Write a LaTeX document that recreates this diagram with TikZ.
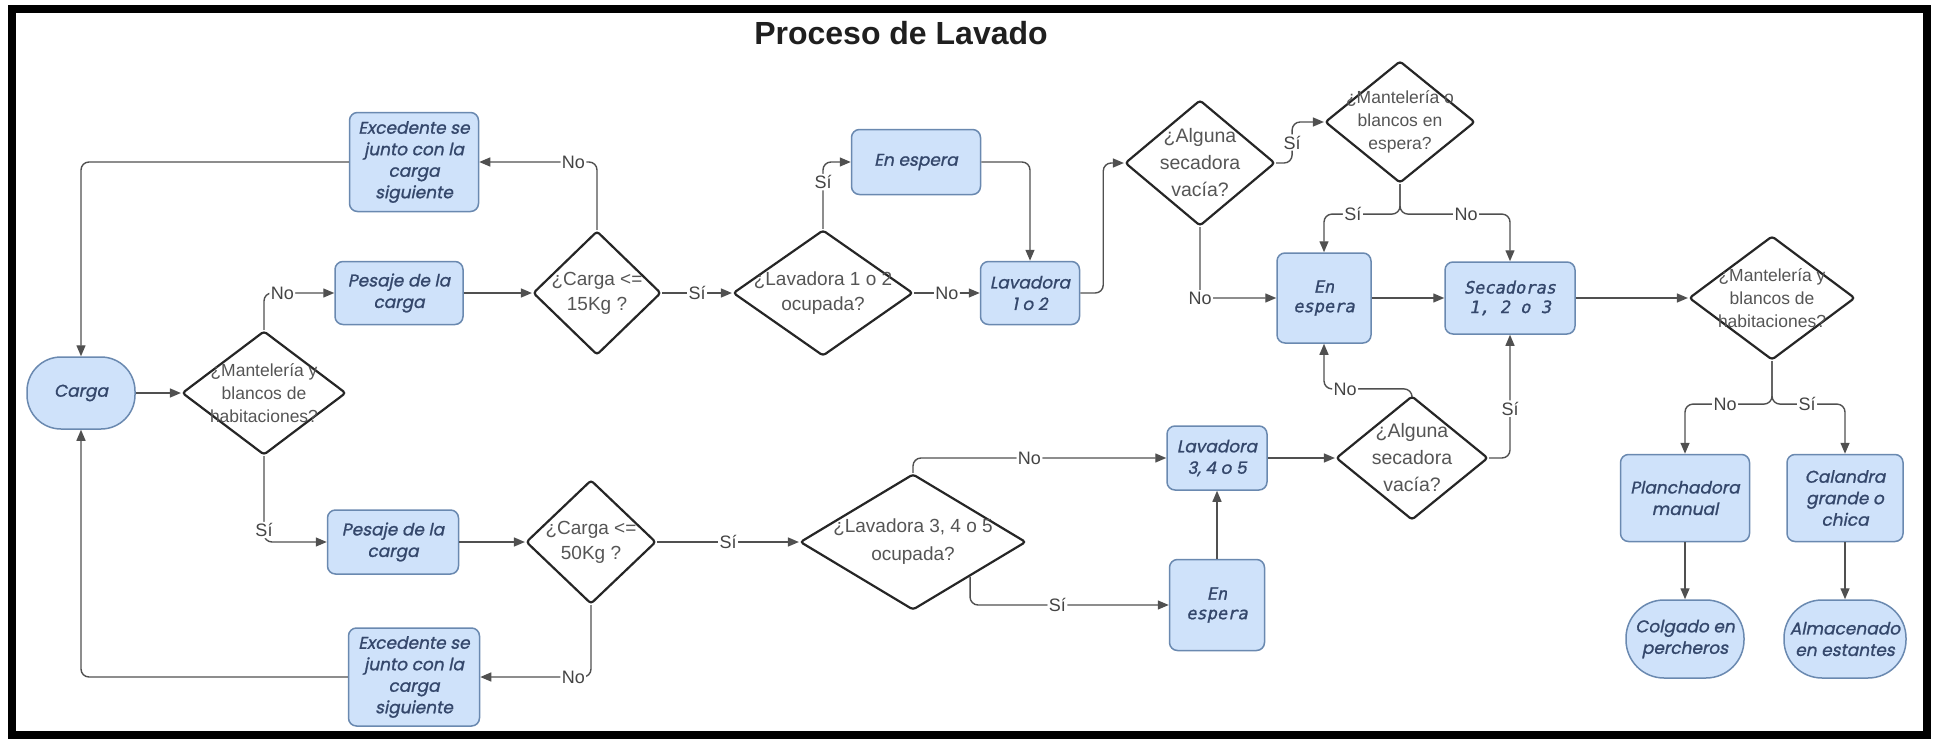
\documentclass[tikz,border=0pt]{standalone}
\usepackage{fontspec}
\setmainfont{Liberation Sans}
\newfontfamily\boxfont[FakeSlant=0.2,FakeBold=1.2]{Poppins}
\newfontfamily\monobox[FakeSlant=0.2,FakeBold=1.2]{DejaVu Sans Mono}
\usetikzlibrary{shapes.geometric,arrows.meta,calc}
\definecolor{boxfill}{HTML}{CFE2FA}
\definecolor{boxline}{HTML}{6A89B0}
\definecolor{boxtext}{HTML}{34476B}
\definecolor{linec}{HTML}{505050}
\definecolor{diatext}{HTML}{555555}
\definecolor{lblc}{HTML}{444444}
\tikzset{
 proc/.style={draw=boxline, fill=boxfill, line width=1.5pt, rounded corners=8pt, inner sep=0pt, align=center, text=boxtext, font=\boxfont\fontsize{17}{21.5}\selectfont},
 termbox/.style={proc},
 monotext/.style={font=\monobox\fontsize{17}{19.5}\selectfont},
 dia/.style={draw=black!85, fill=white, shape=diamond, line width=2.2pt, inner sep=0pt, rounded corners=3pt},
 dtext/.style={text=diatext, align=center, inner sep=0pt, font=\fontsize{19}{25}\selectfont},
 dtextm/.style={dtext, font=\fontsize{17.5}{23}\selectfont},
 dtexta/.style={dtext, font=\fontsize{19.5}{27}\selectfont},
 conn/.style={draw=linec, line width=1.4pt, rounded corners=8pt, -{Triangle[length=11pt,width=9pt]}},
 lbl/.style={fill=white, text=lblc, inner sep=1.5pt, font=\fontsize{18}{20}\selectfont},
}
\begin{document}
\begin{tikzpicture}[x=1pt,y=-1pt]
\useasboundingbox (0,0) rectangle (1939,744);
\draw[line width=8.5pt] (12,9) rectangle (1927,735);
\node[font=\bfseries\fontsize{32}{33}\selectfont, text=black!88] (title) at (901,33) {Proceso de Lavado};

% left part
\node[termbox, rounded corners=34pt, minimum width=108pt, minimum height=72pt] (carga) at (81,393) {Carga};
\node[dia, minimum width=164pt, minimum height=124pt] (d1) at (264,393) {};
\node[dtextm] (d1t) at (d1) {¿Mantelería y\\blancos de\\habitaciones?};
\node[proc, minimum width=128pt, minimum height=63pt] (pes1) at (399,293) {Pesaje de la\\carga};
\node[proc, minimum width=131pt, minimum height=64pt] (pes2) at (393,542) {Pesaje de la\\carga};
\node[proc, minimum width=129pt, minimum height=99pt] (exc1) at (414,162) {Excedente se\\junto con la\\carga\\siguiente};
\node[proc, minimum width=131pt, minimum height=98pt] (exc2) at (414,677) {Excedente se\\junto con la\\carga\\siguiente};
\node[dia, minimum width=128pt, minimum height=124pt] (d15) at (597,293) {};
\node[dtext] (d15t) at (d15) {¿Carga <=\\15Kg ?};
\node[dia, minimum width=130pt, minimum height=124pt] (d50) at (591,542) {};
\node[dtext] (d50t) at (d50) {¿Carga <=\\50Kg ?};

% upper middle
\node[dia, minimum width=180pt, minimum height=126pt] (dl12) at (823,293) {};
\node[dtext] (dl12t) at (dl12) {¿Lavadora 1 o 2\\ocupada?};
\node[proc, minimum width=129pt, minimum height=65pt] (esp1) at (916,162) {En espera};
\node[proc, minimum width=99pt, minimum height=63pt] (lav12) at (1030,293) {Lavadora\\1 o 2};
\node[dia, minimum width=150pt, minimum height=126pt] (dalg1) at (1200,163) {};
\node[dtexta] (dalg1t) at (dalg1) {¿Alguna\\secadora\\vacía?};
\node[dia, minimum width=150pt, minimum height=122pt] (dmo) at (1400,122) {};
\node[dtextm] (dmot) at (dmo) {¿Mantelería o\\blancos en\\espera?};
\node[proc, monotext, minimum width=94pt, minimum height=90pt] (esp2) at (1324,298) {En\\espera};
\node[proc, monotext, minimum width=130pt, minimum height=72pt] (sec) at (1510,298) {Secadoras\\1, 2 o 3};

% lower middle
\node[dia, minimum width=226pt, minimum height=136pt] (dl345) at (913,542) {};
\node[dtext, font=\fontsize{19}{28}\selectfont] (dl345t) at (dl345) {¿Lavadora 3, 4 o 5\\ocupada?};
\node[proc, minimum width=100pt, minimum height=64pt] (lav345) at (1217,458) {Lavadora\\3, 4 o 5};
\node[proc, monotext, minimum width=95pt, minimum height=91pt] (esp3) at (1217,605) {En\\espera};
\node[dia, minimum width=152pt, minimum height=124pt] (dalg2) at (1412,458) {};
\node[dtexta] (dalg2t) at (dalg2) {¿Alguna\\secadora\\vacía?};

% right part
\node[dia, minimum width=166pt, minimum height=124pt] (d3) at (1772,298) {};
\node[dtextm] (d3t) at (d3) {¿Mantelería y\\blancos de\\habitaciones?};
\node[proc, minimum width=129pt, minimum height=87pt] (plan) at (1685,498) {Planchadora\\manual};
\node[proc, minimum width=116pt, minimum height=87pt] (cal) at (1845,498) {Calandra\\grande o\\chica};
\node[termbox, rounded corners=38pt, minimum width=118pt, minimum height=78pt] (colg) at (1685,639) {Colgado en\\percheros};
\node[termbox, rounded corners=38pt, minimum width=122pt, minimum height=78pt] (alm) at (1845,639) {Almacenado\\en estantes};

% connectors
\draw[conn] (exc1.west) -| (carga.north);
\draw[conn] (exc2.west) -| (carga.south);
\draw[conn] (carga.east) -- (d1.west);
\draw[conn] (d1.north) |- (pes1.west) node[lbl,pos=0.63] (l1) {No};
\draw[conn] (d1.south) |- (pes2.west) node[lbl,pos=0.43] (l2) {Sí};
\draw[conn] (pes1.east) -- (d15.west);
\draw[conn] (pes2.east) -- (d50.west);
\draw[conn] (d15.north) |- (exc1.east) node[lbl,pos=0.6] (l3) {No};
\draw[conn] (d50.south) |- (exc2.east) node[lbl,pos=0.58] (l4) {No};
\draw[conn] (d15.east) -- (dl12.west) node[lbl,midway] (l5) {Sí};
\draw[conn] (dl12.north) |- (esp1.west) node[lbl,pos=0.35] (l6) {Sí};
\draw[conn] (esp1.east) -| (lav12.north);
\draw[conn] (dl12.east) -- (lav12.west) node[lbl,midway] (l7) {No};
\draw[conn] (lav12.east) -- ++(23,0) |- (dalg1.west);
\draw[conn] (dalg1.south) |- (esp2.west) node[lbl,pos=0.5] (l8) {No};
\draw[conn] (dalg1.east) -- ++(16,0) |- (dmo.west) node[lbl,pos=0.25] (l9) {Sí};
\draw[conn] (dmo.south) -- ++(0,30) -| (esp2.north) node[lbl,pos=0.31] (l10) {Sí};
\draw[conn] (dmo.south) -- ++(0,30) -| (sec.north) node[lbl,pos=0.30] (l11) {No};
\draw[conn] (esp2.east) -- (sec.west);
\draw[conn] (sec.east) -- (d3.west);
\draw[conn] (d3.south) -- ++(0,43) -| (plan.north) node[lbl,pos=0.27] (l12) {No};
\draw[conn] (d3.south) -- ++(0,43) -| (cal.north) node[lbl,pos=0.24] (l13) {Sí};
\draw[conn] (plan.south) -- (colg.north);
\draw[conn] (cal.south) -- (alm.north);
\draw[conn] (d50.east) -- (dl345.west) node[lbl,midway] (l14) {Sí};
\draw[conn] (dl345.north) |- (lav345.west) node[lbl,pos=0.73] (l15) {No};
\draw[conn] (dl345.south east) |- (esp3.west) node[lbl,pos=0.72] (l16) {Sí};
\draw[conn] (esp3.north) -- (lav345.south);
\draw[conn] (lav345.east) -- (dalg2.west);
\draw[conn] (dalg2.north) -- ++(0,-6) -| (esp2.south) node[lbl,pos=0.38] (l17) {No};
\draw[conn] (dalg2.east) -| (sec.south) node[lbl,pos=0.7] (l18) {Sí};
\end{tikzpicture}
\end{document}
